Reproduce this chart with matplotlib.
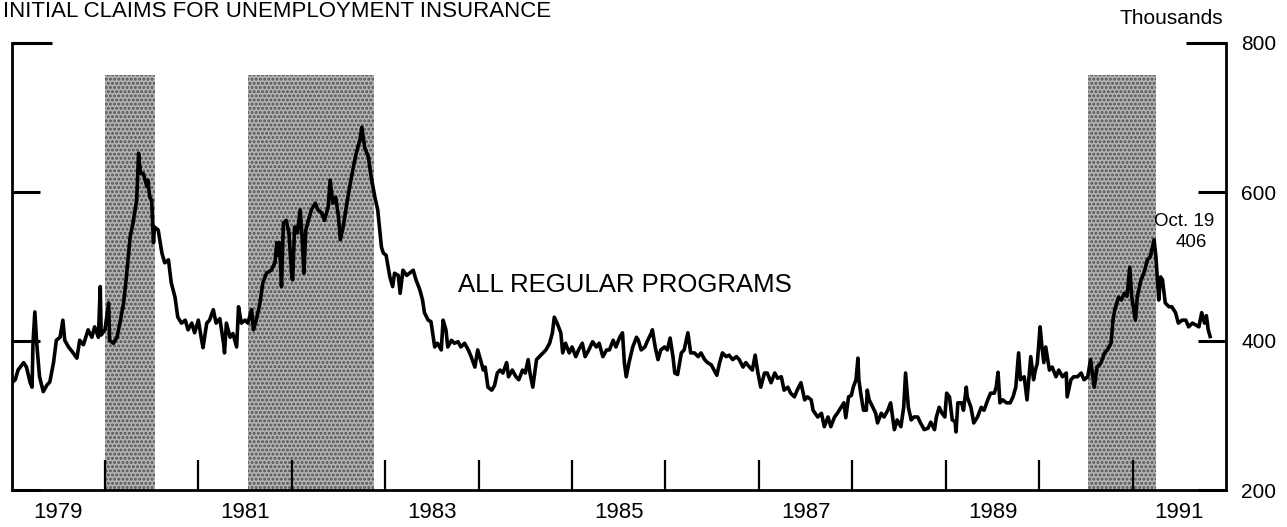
import matplotlib
matplotlib.use("Agg")
import matplotlib.pyplot as plt

plt.rcParams["font.family"] = ["Liberation Sans", "DejaVu Sans"]
plt.rcParams["hatch.linewidth"] = 1.4

# weekly initial claims, thousands
claim_dates = [
    1979.00, 1979.04, 1979.07, 1979.13, 1979.16, 1979.20, 1979.22, 1979.23, 1979.25, 1979.27,
    1979.30, 1979.34, 1979.38, 1979.41, 1979.45, 1979.48, 1979.52, 1979.55, 1979.57, 1979.61,
    1979.66, 1979.70, 1979.73, 1979.77, 1979.82, 1979.86, 1979.89, 1979.93, 1979.95, 1979.96,
    1980.00, 1980.04, 1980.05, 1980.09, 1980.13, 1980.16, 1980.20, 1980.23, 1980.27, 1980.30,
    1980.34, 1980.36, 1980.38, 1980.41, 1980.45, 1980.46, 1980.48, 1980.50, 1980.52, 1980.53,
    1980.57, 1980.61, 1980.64, 1980.68, 1980.71, 1980.75, 1980.78, 1980.82, 1980.86, 1980.89,
    1980.93, 1980.96, 1981.00, 1981.03, 1981.05, 1981.09, 1981.12, 1981.16,
    1981.19, 1981.23, 1981.27, 1981.28, 1981.30, 1981.34, 1981.37, 1981.41, 1981.43, 1981.46,
    1981.50, 1981.53, 1981.57, 1981.59, 1981.62, 1981.66, 1981.69, 1981.73, 1981.78, 1981.82,
    1981.84, 1981.85, 1981.87, 1981.89, 1981.91, 1981.94, 1981.97, 1982.00, 1982.01, 1982.03,
    1982.06, 1982.09, 1982.11, 1982.13, 1982.15, 1982.17, 1982.21, 1982.25, 1982.28, 1982.32,
    1982.35, 1982.39, 1982.41, 1982.44, 1982.47, 1982.50, 1982.52, 1982.55, 1982.59, 1982.62,
    1982.66, 1982.69, 1982.73, 1982.75, 1982.78, 1982.82, 1982.85, 1982.89, 1982.92, 1982.96,
    1982.98, 1983.01, 1983.05, 1983.08, 1983.10, 1983.14, 1983.16, 1983.19, 1983.23, 1983.26,
    1983.30, 1983.33, 1983.37, 1983.40, 1983.42, 1983.46, 1983.49, 1983.53, 1983.56, 1983.60,
    1983.62, 1983.65, 1983.67, 1983.71, 1983.74, 1983.78, 1983.81, 1983.85, 1983.89, 1983.92,
    1983.96, 1983.99, 1984.02, 1984.05, 1984.07, 1984.10, 1984.14, 1984.17, 1984.20, 1984.23,
    1984.26, 1984.30, 1984.32, 1984.36, 1984.40, 1984.43, 1984.47, 1984.50, 1984.53, 1984.55,
    1984.58, 1984.62, 1984.65, 1984.69, 1984.72, 1984.76, 1984.79, 1984.81, 1984.84, 1984.88,
    1984.90, 1984.93, 1984.97, 1985.00, 1985.04, 1985.07, 1985.11, 1985.14, 1985.18, 1985.22,
    1985.26, 1985.29, 1985.33, 1985.37, 1985.40, 1985.44,
    1985.47, 1985.51, 1985.54, 1985.56, 1985.58, 1985.61, 1985.65, 1985.69, 1985.71, 1985.74,
    1985.78, 1985.81, 1985.85, 1985.86, 1985.89, 1985.92, 1985.95, 1985.99, 1986.02, 1986.05,
    1986.08, 1986.10, 1986.13, 1986.17, 1986.20, 1986.24, 1986.27, 1986.31, 1986.35, 1986.38,
    1986.42, 1986.45, 1986.49, 1986.52, 1986.55, 1986.58, 1986.61, 1986.65, 1986.68, 1986.72,
    1986.76, 1986.79, 1986.83, 1986.86, 1986.90, 1986.93, 1986.96, 1986.99, 1987.02, 1987.06,
    1987.09, 1987.13, 1987.17, 1987.20, 1987.24, 1987.27, 1987.31, 1987.34, 1987.38, 1987.41,
    1987.45, 1987.49, 1987.52, 1987.56, 1987.58,
    1987.63, 1987.67, 1987.70, 1987.74, 1987.77, 1987.81, 1987.84, 1987.88, 1987.91, 1987.93,
    1987.96, 1987.99, 1988.01, 1988.04, 1988.06, 1988.07, 1988.09, 1988.12, 1988.15, 1988.16,
    1988.18, 1988.22, 1988.25, 1988.27, 1988.31, 1988.34, 1988.38, 1988.41, 1988.45, 1988.48,
    1988.52, 1988.55, 1988.57, 1988.60, 1988.63, 1988.66, 1988.70, 1988.73, 1988.77, 1988.81,
    1988.84, 1988.88, 1988.90, 1988.93, 1988.96, 1988.99, 1989.01, 1989.04, 1989.07, 1989.10,
    1989.11, 1989.13, 1989.17, 1989.19, 1989.22, 1989.23, 1989.27, 1989.30, 1989.34, 1989.38,
    1989.41, 1989.45, 1989.48, 1989.52, 1989.54, 1989.56, 1989.58, 1989.61, 1989.65, 1989.69,
    1989.72,
    1989.75, 1989.78, 1989.80, 1989.84, 1989.87, 1989.91, 1989.94, 1989.96, 1989.98, 1990.01,
    1990.03, 1990.05, 1990.07, 1990.11, 1990.14, 1990.18, 1990.21, 1990.25, 1990.29, 1990.30,
    1990.34, 1990.37, 1990.41, 1990.45, 1990.48, 1990.52, 1990.55, 1990.59, 1990.62, 1990.66,
    1990.70, 1990.73, 1990.77, 1990.79, 1990.81, 1990.85, 1990.88, 1990.91, 1990.94, 1990.97,
    1990.99, 1991.03, 1991.05, 1991.09, 1991.12, 1991.16, 1991.19, 1991.23, 1991.25, 1991.28,
    1991.30, 1991.32, 1991.35, 1991.39, 1991.42, 1991.46, 1991.49, 1991.53, 1991.57, 1991.60,
    1991.64, 1991.67, 1991.71, 1991.74, 1991.77, 1991.79, 1991.81, 1991.83,
]
claim_values = [
    344, 348, 361, 371, 365, 344, 338, 397, 439, 397,
    352, 332, 341, 345, 371, 401, 405, 428, 401, 392,
    384, 377, 401, 395, 415, 405, 419, 405, 473, 408,
    415, 451, 401, 397, 405, 424, 451, 486, 540, 558,
    589, 652, 625, 625, 607, 616, 593, 589, 532, 553,
    549, 518, 505, 509, 478, 459, 432, 424, 428, 415,
    424, 411, 428, 405, 391, 424, 428, 442,
    424, 430, 397, 384, 424, 405, 410, 392, 446, 424,
    428, 424, 442, 415, 428, 451, 478, 491, 495, 505,
    532, 515, 532, 473, 558, 562, 545, 486, 482, 553,
    545, 576, 540, 491, 549, 558, 576, 585, 576, 572,
    562, 580, 616, 585, 593, 567, 536, 553, 585, 607,
    634, 652, 670, 687, 660, 647, 620, 593, 576, 526,
    518, 515, 486, 473, 491, 488, 464, 495, 488, 491,
    495, 482, 469, 455, 438, 428, 426, 392, 397, 388,
    428, 415, 392, 401, 397, 399, 392, 397, 388, 379,
    365, 388, 375, 361, 365, 338, 334, 340, 357, 361,
    357, 371, 352, 361, 352, 348, 361, 357, 375, 357,
    338, 375, 379, 384, 388, 397, 411, 432, 424, 411,
    384, 397, 384, 392, 379, 388, 397, 379, 388, 399,
    392, 397, 379, 388, 388, 401,
    392, 405, 411, 371, 352, 371, 392, 405, 401, 388,
    392, 401, 411, 415, 392, 375, 388, 392, 388, 404,
    379, 357, 355, 384, 388, 411, 384, 384, 379, 384,
    375, 371, 368, 361, 354, 371, 384, 379, 381, 375,
    379, 375, 365, 371, 365, 361, 381, 357, 338, 357,
    357, 344, 357, 350, 352, 334, 338, 330, 325, 334,
    344, 321, 325, 321, 307,
    298, 303, 285, 298, 285, 298, 303, 311, 317, 297,
    325, 327, 338, 348, 377, 348, 330, 307, 307, 334,
    321, 311, 303, 290, 303, 298, 307, 317, 281, 294,
    285, 311, 357, 311, 294, 298, 298, 290, 281, 283,
    291, 281, 298, 311, 303, 298, 330, 325, 294, 292,
    278, 317, 317, 307, 338, 325, 311, 290, 298, 311,
    307, 321, 330, 330, 338, 358, 317, 321, 317, 317,
    325,
    338, 384, 348, 352, 321, 379, 348, 361, 370, 419,
    392, 371, 392, 361, 365, 352, 361, 352, 357, 325,
    348, 352, 352, 357, 348, 352, 375, 338, 365, 370,
    384, 388, 397, 428, 442, 459, 455, 464, 460, 499,
    460, 428, 459, 482, 491, 509, 513, 536, 513, 455,
    486, 482, 451, 446, 446, 438, 424, 428, 428, 419,
    424, 422, 419, 438, 424, 434, 415, 406,
]

recession_starts = [1980.00, 1981.53, 1990.52]
recession_ends = [1980.54, 1982.88, 1991.25]
recession_top = 757

year_ticks = list(range(1980, 1992))
label_years = [1979, 1981, 1983, 1985, 1987, 1989, 1991]
y_ticks = [200, 400, 600, 800]

W, H = 1287, 527
fig = plt.figure(figsize=(W / 100, H / 100), dpi=100)
ax = fig.add_axes([11.5 / W, 1 - 490 / H, (1226 - 11.5) / W, (490 - 43) / H])

# recession shading (halftone look)
for start, end in zip(recession_starts, recession_ends):
    ax.fill_between([start, end], 200, recession_top, facecolor="#b2b2b2",
                    edgecolor="#505050", hatch="....", linewidth=0, zorder=1)

ax.plot(claim_dates, claim_values, color="black", linewidth=2.6, zorder=3)

ax.set_xlim(1979, 1992)
ax.set_ylim(200, 800)

ax.spines["top"].set_visible(False)
for side in ["left", "right", "bottom"]:
    ax.spines[side].set_linewidth(2.0)

# x axis: year boundaries as ticks, odd years labelled mid-year
ax.set_xticks(year_ticks)
ax.set_xticks([y + 0.5 for y in label_years], labels=[str(y) for y in label_years], minor=True)
ax.tick_params(axis="x", which="major", direction="in", length=21.5, width=1.6,
               labelbottom=False)
ax.tick_params(axis="x", which="minor", length=0, pad=9, labelsize=16)

# y axis: labels on the right, ticks both sides
ax.yaxis.remove_overlapping_locs = False
ax.set_yticks(y_ticks, labels=[str(v) for v in y_ticks])
ax.set_yticks([800], minor=True)
ax.tick_params(axis="y", which="major", direction="in", length=20, width=2.2,
               left=True, right=True, labelleft=False, labelright=True,
               labelsize=15, pad=11)
ax.tick_params(axis="y", which="minor", direction="in", length=29, width=2.2,
               left=True, right=True, labelleft=False, labelright=False)

fig.text(3 / W, 1 - 17 / H, "INITIAL CLAIMS FOR UNEMPLOYMENT INSURANCE",
         fontsize=16, ha="left", va="baseline")
fig.text(1223 / W, 1 - 18 / H, "Thousands", fontsize=15, ha="right", va="center")

ax.text(1985.57, 475, "ALL REGULAR PROGRAMS", fontsize=18.5, ha="center", va="center")
ax.text(1991.55, 561, "Oct. 19", fontsize=13.5, ha="center", va="center")
ax.text(1991.63, 532, "406", fontsize=13.5, ha="center", va="center")

fig.savefig("out.png", dpi=100)
